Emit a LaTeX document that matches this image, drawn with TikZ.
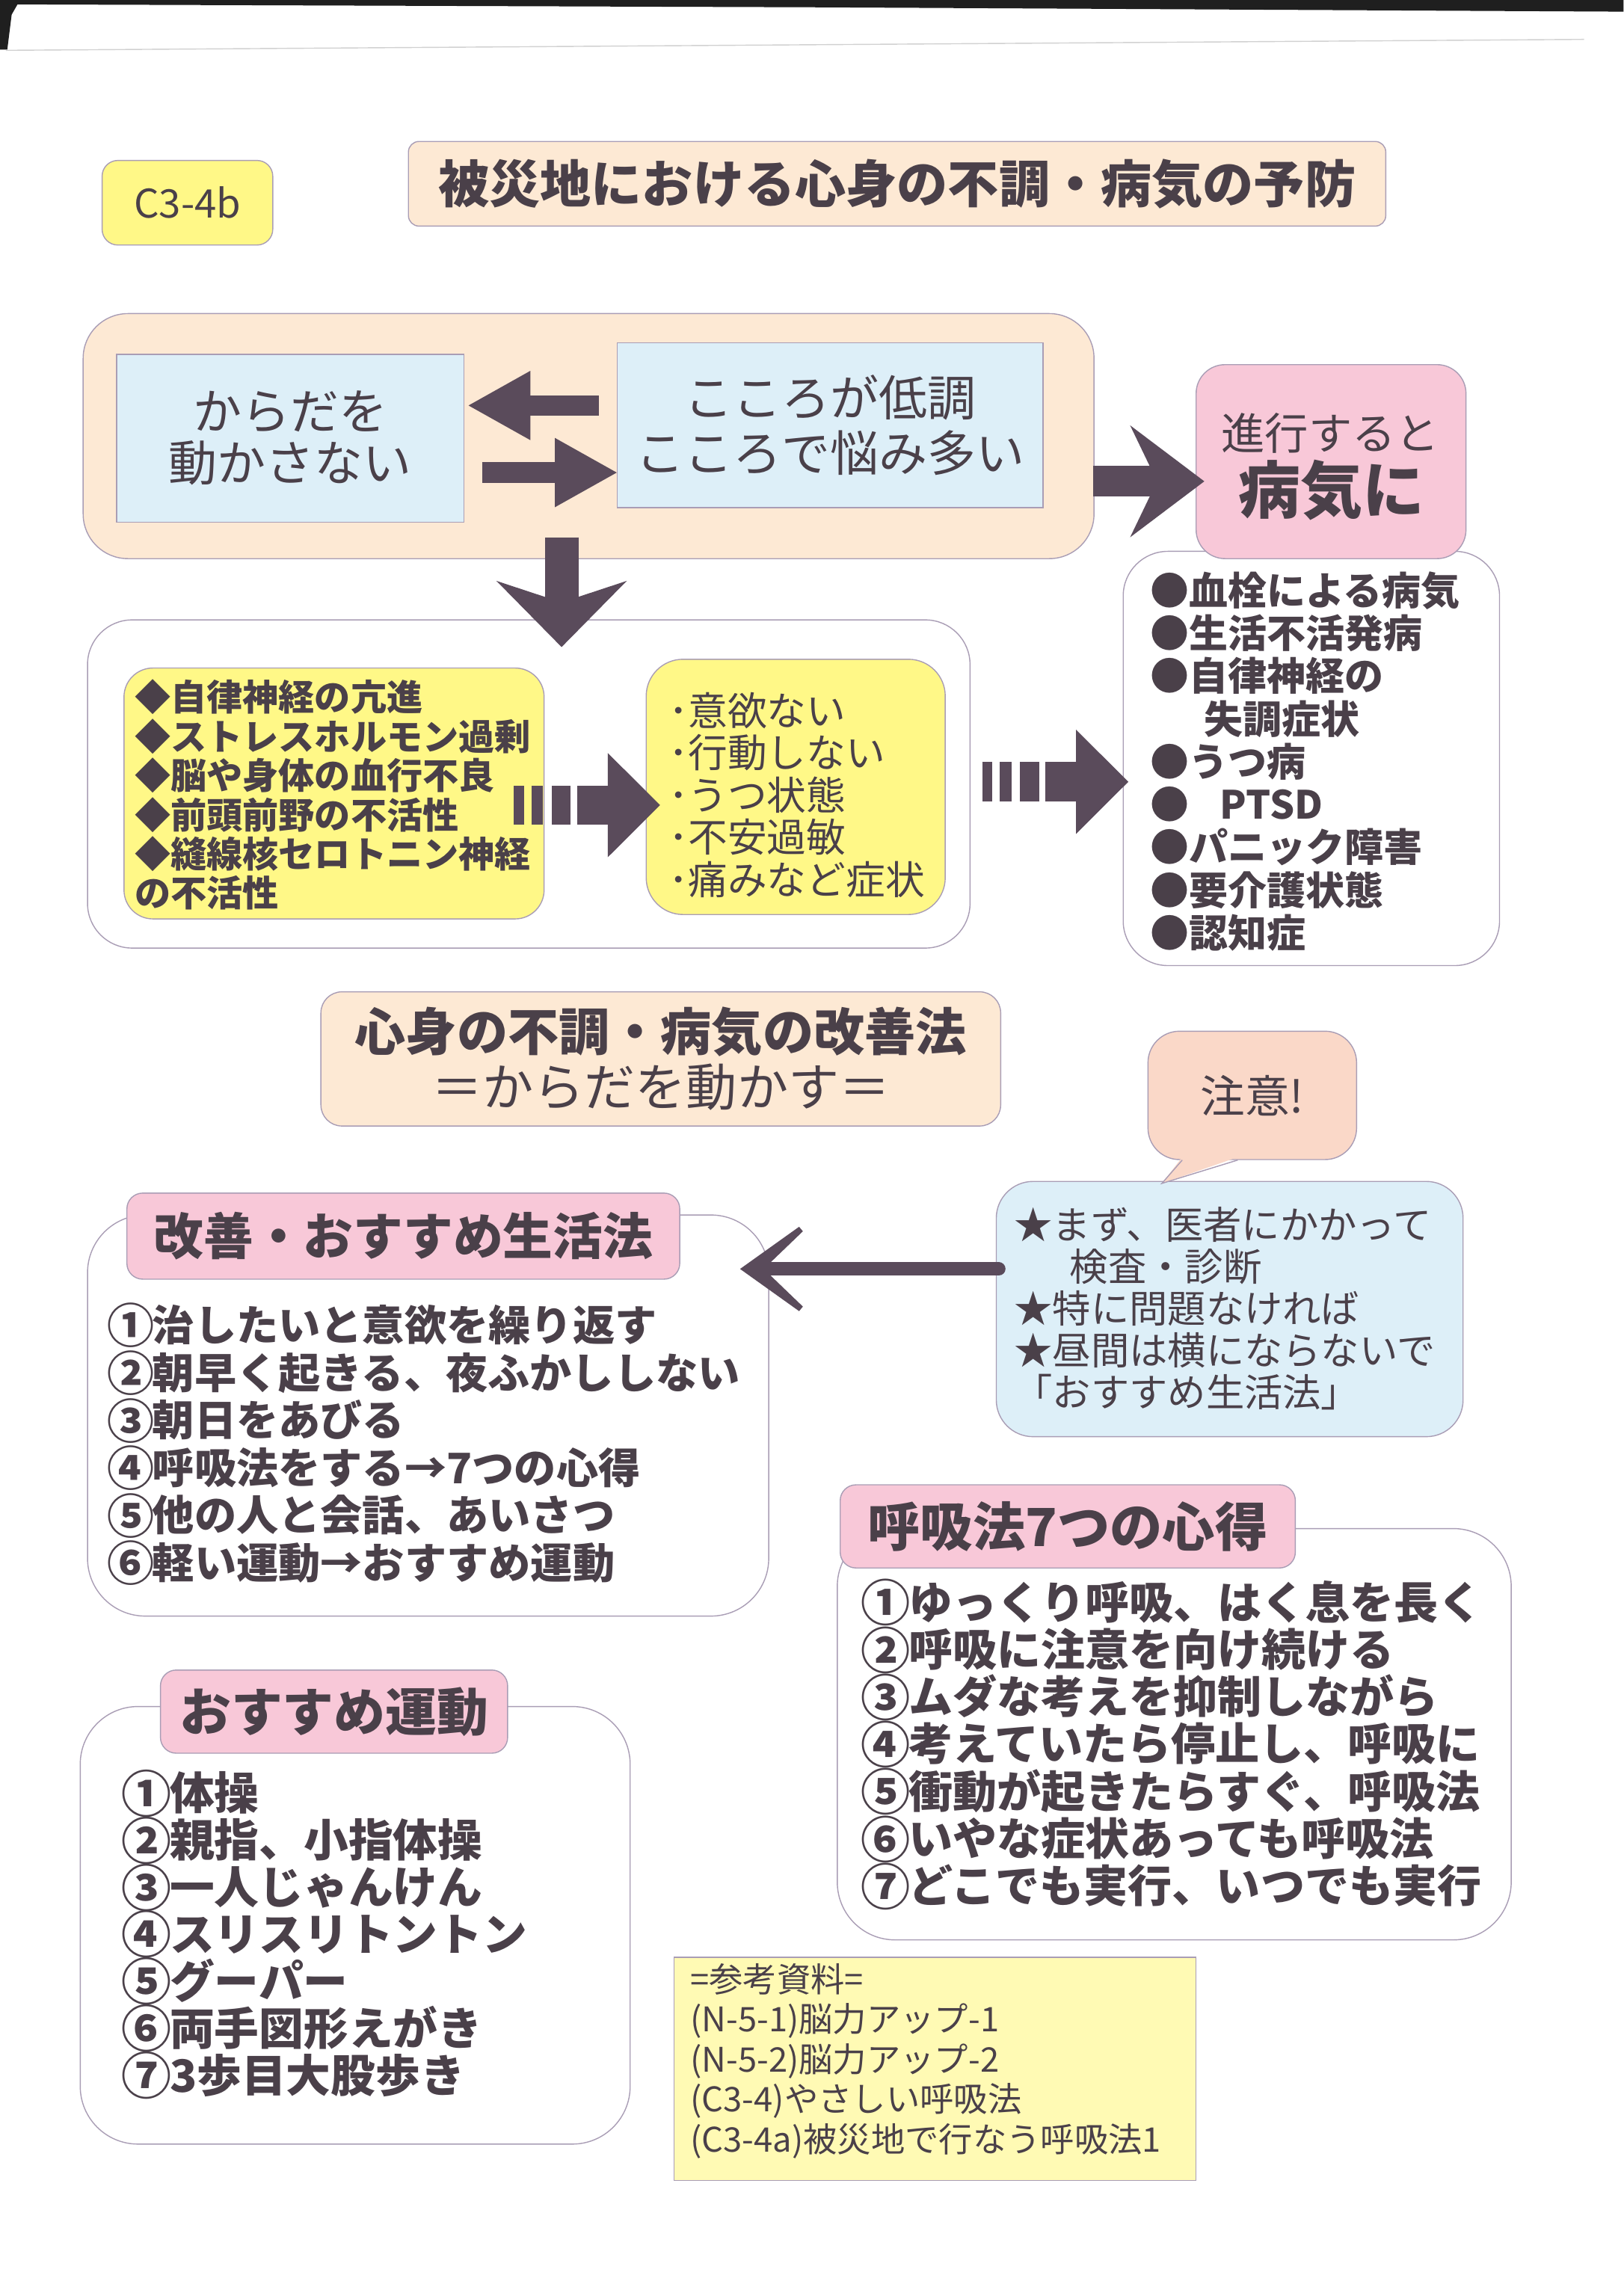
\documentclass[tikz,border=0pt]{standalone}
\usepackage{fontspec}
\setmainfont{Noto Sans CJK JP}
\usepackage{xcolor}
\usepackage{tikz}
\usetikzlibrary{arrows.meta,calc}

\definecolor{textc}{HTML}{4A4049}
\definecolor{arrowc}{HTML}{5A4B5B}
\definecolor{edgec}{HTML}{A99DB5}
\definecolor{yellowc}{HTML}{FFF887}
\definecolor{refc}{HTML}{FFFAB4}
\definecolor{peachc}{HTML}{FDE9D4}
\definecolor{bluec}{HTML}{DDEFF8}
\definecolor{pinkc}{HTML}{F8C8D8}
\definecolor{cautionc}{HTML}{FAD8C8}

\newcommand{\px}{0.19515mm}
\newcommand{\fs}[2]{\fontsize{#1pt}{#2pt}\selectfont}
\newcommand{\cnum}[1]{\makebox[1.08em][l]{\smash{\raisebox{-0.06em}{\scalebox{1.12}{#1}}}}}

\begin{document}
\begin{tikzpicture}[x=\px, y=-\px,
			% Define the styles for the boxes, texts and arrows
			box/.style={draw=edgec, line width=0.4pt, inner sep=0pt},
			size/.style 2 args={minimum width=#1*\px, minimum height=#2*\px},
			txt/.style={inner sep=0pt, text=textc, align=left},
			headbox/.style={box, fill=pinkc, rounded corners=6pt, txt, align=center, font=\fs{19}{22}\bfseries},
			listbox/.style={box, fill=white, rounded corners=22pt},
			fatarrow/.style={draw=arrowc, line width=7.8pt, -{Triangle[length=24pt, width=24.5pt]}},
			sidearrow/.style={draw=arrowc, line width=11.7pt, -{Stealth[length=28pt, width=42pt, inset=10pt]}},
			downarrow/.style={draw=arrowc, line width=12.8pt, -{Stealth[length=25pt, width=49pt, inset=8pt]}},
			stripearrow/.style={draw=arrowc, line width=15pt, dash pattern=on 3.9pt off 2.8pt on 4.4pt off 3.3pt on 7.2pt off 2.5pt on 40pt off 10pt, -{Triangle[length=20pt, width=38.5pt]}},
			thinarrow/.style={draw=arrowc, line width=5.2pt, line cap=round, -{Stealth[length=35pt, width=50pt, inset=26pt]}}
			]
			
			\useasboundingbox (0, 0) rectangle (1113, 1568);
			\fill[white] (0, 0) rectangle (1113, 1568);
			% scanned page edge
			\fill[black!88] (0, 0) -- (1113, 0) -- (1113, 8) -- (560, 5) -- (12, 3) -- (8, 10) -- (5, 34) -- (0, 34) -- cycle;
			\draw[black!18, line width=0.4pt] (4, 34.5) -- (1086, 27);
			
			\node (tag) at (128.5, 139) [box, fill=yellowc, rounded corners=6pt, size={117}{58}, txt, align=center, font=\fs{15}{18}] {C3-4b};
			\node (title) at (615, 126) [box, fill=peachc, rounded corners=4pt, size={670}{58}, txt, align=center, font=\fs{19.4}{22}\bfseries] {被災地における心身の不調・病気の予防};
			
			% upper part
			\node (frame) at (403.5, 299) [box, fill=peachc, rounded corners=17pt, size={693}{168}] {};
			\node (body) at (199, 300.5) [box, fill=bluec, size={238}{115}, txt, align=center, font=\fs{18.5}{19.6}] {からだを\\動かさない};
			\node (mind) at (569, 291.5) [box, fill=bluec, size={292}{113}, txt, align=center, font=\fs{18.5}{21}] {こころが低調\\こころで悩み多い};
			
			\draw[fatarrow] ($(mind.west)+(-12, -13.5)$) -- ($(body.east)+(2, -22.5)$);
			\draw[fatarrow] ($(body.east)+(12, 23.5)$) -- ($(mind.west)+(1, 32.5)$);
			
			\node (disease) at (899, 520) [listbox, rounded corners=17pt, size={258}{284}] {};
			\node (ill) at (912.5, 316.5) [box, fill=pinkc, rounded corners=11pt, size={185}{133}] {};
			\node (illa) at (912, 297) [txt, font=\fs{16.6}{20}] {進行すると};
			\node (illb) at (913, 336) [txt, font=\fs{23.6}{26}\bfseries] {病気に};
			
			\draw[sidearrow] ($(frame.east)+(-1, 31)$) -- ($(ill.west)+(6, 13.5)$);
			
			% causes and states
			\node (cause) at (362.5, 537.5) [listbox, rounded corners=17pt, size={605}{225}] {};
			\draw[downarrow] ($(frame.south)+(-18.5, -15)$) -- ($(cause.north)+(22.5, 19)$);
			
			\node (causebox) at (229, 544) [box, fill=yellowc, rounded corners=11pt, size={288}{172}] {};
			\node (statebox) at (545.5, 539.5) [box, fill=yellowc, rounded corners=14pt, size={205}{175}] {};
			\node (causetext) at (92, 545) [txt, anchor=west, font=\fs{13.7}{14.9}\bfseries] {◆自律神経の亢進\\◆ストレスホルモン過剰\\◆脳や身体の血行不良\\◆前頭前野の不活性\\◆縫線核セロトニン神経\\の不活性};
			\node (statetext) at (458, 545) [txt, anchor=west, font=\fs{15}{16.1}] {･意欲ない\\･行動しない\\･うつ状態\\･不安過敏\\･痛みなど症状};
			\node (diseasetext) at (788, 522) [txt, anchor=west, font=\fs{14.8}{16.3}\bfseries] {●血栓による病気\\●生活不活発病\\●自律神経の\\\hspace*{1.4em}失調症状\\●うつ病\\●\hspace{0.8em}PTSD\\●パニック障害\\●要介護状態\\●認知症};
			
			\draw[stripearrow] ($(causebox.east)+(-21, 8)$) -- ($(statebox.west)+(10, 12.5)$);
			\draw[stripearrow] ($(cause.east)+(8, -1.5)$) -- ($(disease.west)+(4, 16)$);
			
			% remedies
			\node (remedy) at (453, 726) [box, fill=peachc, rounded corners=8pt, size={466}{92}, txt, align=center, font=\fs{19.4}{21}] {{\bfseries 心身の不調・病気の改善法}\\＝からだを動かす＝};
			
			\node (advice) at (843, 897.5) [box, fill=bluec, rounded corners=14pt, size={320}{175}] {};
			\node (caution) at (858.5, 751) [box, fill=cautionc, rounded corners=12pt, size={143}{88}, txt, align=center, font=\fs{17}{20}] {注意!};
			\fill[cautionc] ($(caution.south)+(-48, -2)$) -- ($(caution.south)+(-62, 16)$) -- ($(caution.south)+(-10, -2)$) -- cycle;
			\draw[edgec, line width=0.4pt] ($(caution.south)+(-48, 0)$) -- ($(caution.south)+(-62, 16)$) -- ($(caution.south)+(-10, 0)$);
			\node (advicetext) at (695, 897) [txt, anchor=west, font=\fs{14.6}{15.9}] {★まず、医者にかかって\\\hspace*{1.45em}検査・診断\\★特に問題なければ\\★昼間は横にならないで\\「おすすめ生活法」};
			
			\node (life) at (293.5, 970.5) [listbox, size={467}{275}] {};
			\node (lifehead) at (276.5, 847.5) [headbox, size={379}{59}] {改善・おすすめ生活法};
			\node (lifetext) at (73, 990) [txt, anchor=west, font=\fs{16}{18.1}\bfseries] {\cnum{①}治したいと意欲を繰り返す\\\cnum{②}朝早く起きる、夜ふかししない\\\cnum{③}朝日をあびる\\\cnum{④}呼吸法をする→7つの心得\\\cnum{⑤}他の人と会話、あいさつ\\\cnum{⑥}軽い運動→おすすめ運動};
			
			\draw[thinarrow] ($(advice.west)+(2, -27.5)$) -- ($(life.east)+(-20, -100.5)$);
			
			\node (breath) at (805, 1189) [listbox, size={462}{282}] {};
			\node (breathhead) at (732, 1046.5) [headbox, size={312}{57}, font=\fs{20}{22}\bfseries] {呼吸法7つの心得};
			\node (breathtext) at (590, 1195.5) [txt, anchor=west, font=\fs{16.8}{18}\bfseries] {\cnum{①}ゆっくり呼吸、はく息を長く\\\cnum{②}呼吸に注意を向け続ける\\\cnum{③}ムダな考えを抑制しながら\\\cnum{④}考えていたら停止し、呼吸に\\\cnum{⑤}衝動が起きたらすぐ、呼吸法\\\cnum{⑥}いやな症状あっても呼吸法\\\cnum{⑦}どこでも実行、いつでも実行};
			
			\node (exer) at (243.5, 1320) [listbox, size={377}{300}] {};
			\node (exerhead) at (229, 1173.5) [headbox, size={238}{57}, font=\fs{19.6}{22}\bfseries] {おすすめ運動};
			\node (exertext) at (83, 1326) [txt, anchor=west, font=\fs{17}{17.9}\bfseries] {\cnum{①}体操\\\cnum{②}親指、小指体操\\\cnum{③}一人じゃんけん\\\cnum{④}スリスリトントン\\\cnum{⑤}グーパー\\\cnum{⑥}両手図形えがき\\\cnum{⑦}3歩目大股歩き};
			
			\node (ref) at (641, 1418.5) [box, fill=refc, size={358}{153}] {};
			\node (reftext) at (473, 1413) [txt, anchor=west, font=\fs{12.9}{15.2}] {=参考資料=\\(N-5-1)脳力アップ-1\\(N-5-2)脳力アップ-2\\(C3-4)やさしい呼吸法\\(C3-4a)被災地で行なう呼吸法1};
			
		\end{tikzpicture}
\end{document}
